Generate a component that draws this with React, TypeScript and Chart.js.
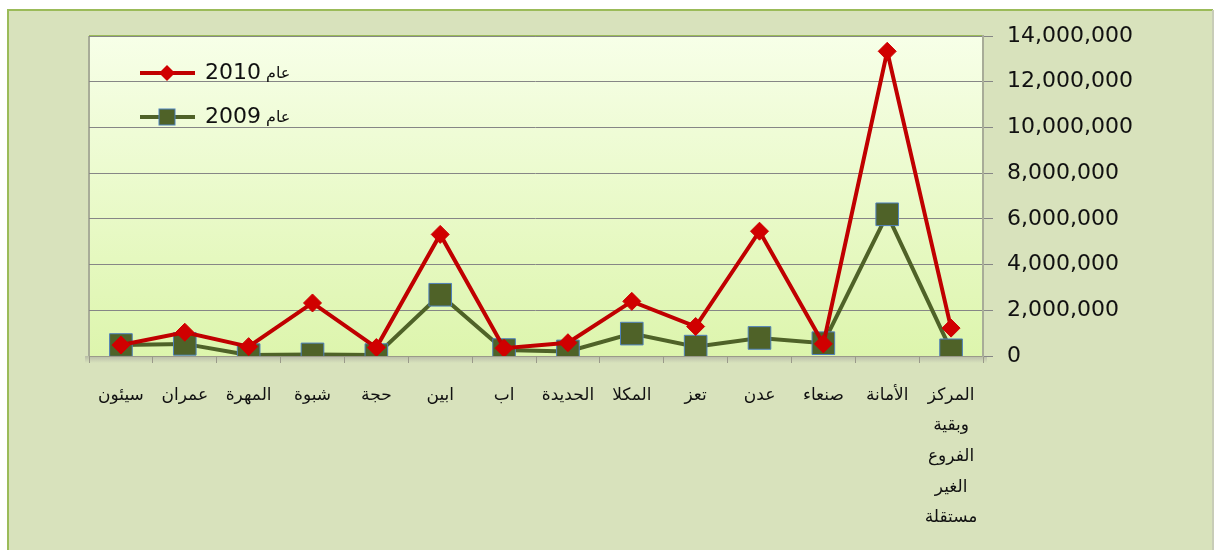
import React, { useEffect, useRef } from "react";
import { Chart, registerables } from "chart.js";

Chart.register(...registerables);

// Categories listed in source (right-to-left) order
const categories: (string | string[])[] = [
  ["المركز", "وبقية", "الفروع", "الغير", "مستقلة"],
  "الأمانة",
  "صنعاء",
  "عدن",
  "تعز",
  "المكلا",
  "الحديدة",
  "اب",
  "ابين",
  "حجة",
  "شبوة",
  "المهرة",
  "عمران",
  "سيئون",
];

const values2010 = [
  1220000, 13330000, 530000, 5460000, 1290000, 2390000, 580000, 340000,
  5320000, 370000, 2320000, 410000, 1040000, 480000,
];

const values2009 = [
  250000, 6200000, 560000, 790000, 410000, 980000, 200000, 260000,
  2680000, 40000, 70000, 40000, 530000, 480000,
];

const seriesYears = ["2010", "2009"];
const seriesWord = "عام";

const yMax = 14000000;
const yStep = 2000000;

const drawLegendText = (ctx: any, year: string, x: number, y: number) => {
  ctx.fillStyle = "#111";
  ctx.font = "22px 'DejaVu Sans'";
  ctx.fillText(year, x, y);
  const w = ctx.measureText(year).width;
  ctx.font = "16px 'DejaVu Sans'";
  ctx.fillText(seriesWord, x + w + 5, y + 1);
};

const framePlugin = {
  id: "framePlugin",
  beforeDraw(chart: any) {
    const { ctx, chartArea, width, height } = chart;
    const { left, top, right, bottom } = chartArea;
    ctx.save();
    ctx.fillStyle = "#ffffff";
    ctx.fillRect(0, 0, width, height);
    ctx.fillStyle = "#d8e2bc";
    ctx.fillRect(7, 9, width - 9, height - 9);
    ctx.strokeStyle = "#9bbb59";
    ctx.lineWidth = 2;
    ctx.beginPath();
    ctx.moveTo(8, height);
    ctx.lineTo(8, 10);
    ctx.lineTo(width - 2, 10);
    ctx.stroke();
    ctx.strokeStyle = "#c8cdb8";
    ctx.beginPath();
    ctx.moveTo(width - 2, 10);
    ctx.lineTo(width - 2, height);
    ctx.stroke();
    // plot background gradient
    const g = ctx.createLinearGradient(0, top, 0, bottom);
    g.addColorStop(0, "#f7ffe8");
    g.addColorStop(1, "#ddf5ad");
    ctx.fillStyle = g;
    ctx.fillRect(left, top, right - left, bottom - top);
    // bottom shadow
    const s = ctx.createLinearGradient(0, bottom, 0, bottom + 7);
    s.addColorStop(0, "#b8bca8");
    s.addColorStop(1, "#d8e2bc");
    ctx.fillStyle = s;
    ctx.fillRect(left - 4, bottom, right - left + 8, 7);
    // top border
    ctx.strokeStyle = "#9bbb59";
    ctx.lineWidth = 2;
    ctx.beginPath();
    ctx.moveTo(left, top);
    ctx.lineTo(right, top);
    ctx.stroke();
    // left border
    ctx.strokeStyle = "#a8ac98";
    ctx.lineWidth = 2;
    ctx.beginPath();
    ctx.moveTo(left, top);
    ctx.lineTo(left, bottom);
    ctx.stroke();
    ctx.restore();
  },
  afterDraw(chart: any) {
    const { ctx } = chart;
    const ds = chart.data.datasets;
    ctx.save();
    ctx.textAlign = "left";
    ctx.textBaseline = "middle";
    ctx.direction = "ltr";
    // row 1
    let y = 73;
    ctx.strokeStyle = ds[0].borderColor;
    ctx.lineWidth = 4;
    ctx.beginPath();
    ctx.moveTo(140, y);
    ctx.lineTo(195, y);
    ctx.stroke();
    ctx.fillStyle = ds[0].pointBackgroundColor;
    ctx.beginPath();
    ctx.moveTo(167, y - 8);
    ctx.lineTo(175, y);
    ctx.lineTo(167, y + 8);
    ctx.lineTo(159, y);
    ctx.closePath();
    ctx.fill();
    drawLegendText(ctx, seriesYears[0], 205, y);
    // row 2
    y = 117;
    ctx.strokeStyle = ds[1].borderColor;
    ctx.lineWidth = 4;
    ctx.beginPath();
    ctx.moveTo(140, y);
    ctx.lineTo(195, y);
    ctx.stroke();
    ctx.fillStyle = ds[1].pointBackgroundColor;
    ctx.fillRect(159, y - 8, 16, 16);
    ctx.strokeStyle = ds[1].pointBorderColor;
    ctx.lineWidth = 1;
    ctx.strokeRect(159, y - 8, 16, 16);
    drawLegendText(ctx, seriesYears[1], 205, y);
    ctx.restore();
  },
};

export default function App() {
  const ref = useRef<HTMLCanvasElement>(null);

  useEffect(() => {
    if (!ref.current) return;
    const chart = new Chart(ref.current, {
      type: "line",
      data: {
        labels: categories,
        datasets: [
          {
            label: seriesWord + " " + seriesYears[0],
            data: values2010,
            borderColor: "#c00000",
            borderWidth: 4,
            pointStyle: "rectRot",
            pointRadius: 9,
            pointBackgroundColor: "#d00000",
            pointBorderColor: "#d00000",
            pointBorderWidth: 1,
            tension: 0,
          },
          {
            label: seriesWord + " " + seriesYears[1],
            data: values2009,
            borderColor: "#4f6228",
            borderWidth: 4,
            pointStyle: "rect",
            pointRadius: 16,
            pointBackgroundColor: "#4f6228",
            pointBorderColor: "#4f81bd",
            pointBorderWidth: 1,
            tension: 0,
          },
        ],
      },
      plugins: [framePlugin],
      options: {
        responsive: false,
        animation: false,
        layout: { padding: { left: 89, top: 36, right: 0, bottom: 0 } },
        plugins: {
          legend: { display: false },
          tooltip: { enabled: false },
        },
        scales: {
          x: {
            type: "category",
            reverse: true,
            offset: true,
            grid: {
              offset: true,
              drawOnChartArea: false,
              drawTicks: true,
              tickLength: 7,
              color: "#9a9a8a",
            },
            border: { display: true, color: "#9a9a8a", width: 1 },
            ticks: {
              autoSkip: false,
              maxRotation: 0,
              minRotation: 0,
              padding: 17,
              color: "#111",
              font: { family: "'DejaVu Sans'", size: 17, lineHeight: 1.8 },
            },
            afterFit(scale: any) {
              scale.height = 194;
            },
          },
          y: {
            position: "right",
            min: 0,
            max: yMax,
            grid: {
              color: "#868686",
              lineWidth: 1,
              tickLength: 10,
            },
            border: { display: true, color: "#a8ac98", width: 2 },
            ticks: {
              stepSize: yStep,
              padding: 14,
              color: "#111",
              font: { family: "'DejaVu Sans'", size: 22 },
              callback: (v: any) => Number(v).toLocaleString("en-US"),
            },
            afterFit(scale: any) {
              scale.width = 232;
            },
          },
        },
      },
    });
    return () => chart.destroy();
  }, []);

  return (
    <canvas
      ref={ref}
      width={1215}
      height={550}
      style={{ position: "fixed", left: 0, top: 0, display: "block" }}
    />
  );
}
